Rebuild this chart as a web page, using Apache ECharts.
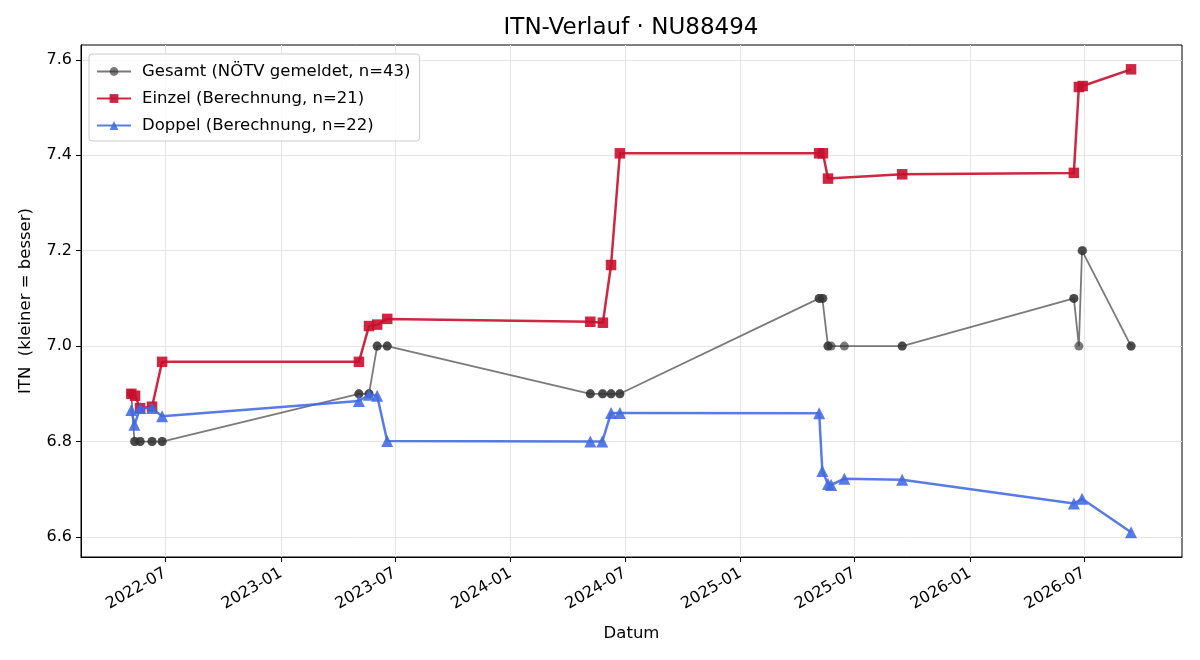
<!DOCTYPE html>
<html>
<head>
<meta charset="utf-8">
<script src="https://cdn.jsdelivr.net/npm/echarts@6/dist/echarts.min.js"></script>
<style>
  html, body { margin: 0; padding: 0; background: #fff; }
  #chart { width: 1200px; height: 660px; }
</style>
</head>
<body>
<div id="chart"></div>
<script>
// Einzel (Berechnung), 21 Punkte
const einzelDates = [
  '2022-05-08', '2022-05-14', '2022-05-22', '2022-06-10', '2022-06-26',
  '2023-05-05', '2023-05-21', '2023-06-03', '2023-06-19',
  '2024-05-07', '2024-05-27', '2024-06-09', '2024-06-23',
  '2025-05-06', '2025-05-12', '2025-05-20', '2025-09-15',
  '2026-06-15', '2026-06-23', '2026-06-29', '2026-09-14'
];
const einzelValues = [
  6.900, 6.896, 6.870, 6.873, 6.967,
  6.967, 7.042, 7.045, 7.057,
  7.051, 7.049, 7.170, 7.404,
  7.404, 7.404, 7.351, 7.360,
  7.363, 7.543, 7.545, 7.580
];

// Doppel (Berechnung), 22 Punkte
const doppelDates = [
  '2022-05-08', '2022-05-13', '2022-05-22', '2022-06-10', '2022-06-26',
  '2023-05-05', '2023-05-21', '2023-06-03', '2023-06-19',
  '2024-05-07', '2024-05-26', '2024-06-09', '2024-06-23',
  '2025-05-06', '2025-05-11', '2025-05-20', '2025-05-25', '2025-06-15', '2025-09-15',
  '2026-06-15', '2026-06-28', '2026-09-14'
];
const doppelValues = [
  6.866, 6.835, 6.870, 6.870, 6.853,
  6.885, 6.898, 6.896, 6.801,
  6.800, 6.800, 6.860, 6.860,
  6.859, 6.738, 6.711, 6.709, 6.722, 6.720,
  6.670, 6.680, 6.610
];

// Gesamt (NÖTV gemeldet), 43 Punkte (viele am selben Tag)
const gesamtDates = [
  '2022-05-08', '2022-05-08', '2022-05-13', '2022-05-14', '2022-05-22', '2022-05-22',
  '2022-06-10', '2022-06-10', '2022-06-26', '2022-06-26',
  '2023-05-05', '2023-05-05', '2023-05-21', '2023-05-21',
  '2023-06-03', '2023-06-03', '2023-06-19', '2023-06-19',
  '2024-05-07', '2024-05-07', '2024-05-26', '2024-05-27',
  '2024-06-09', '2024-06-09', '2024-06-23', '2024-06-23',
  '2025-05-06', '2025-05-06', '2025-05-11', '2025-05-12',
  '2025-05-20', '2025-05-20', '2025-05-25', '2025-06-15', '2025-09-15', '2025-09-15',
  '2026-06-15', '2026-06-15', '2026-06-23', '2026-06-28', '2026-06-29',
  '2026-09-14', '2026-09-14'
];
const gesamtValues = [
  6.9, 6.9, 6.8, 6.8, 6.8, 6.8,
  6.8, 6.8, 6.8, 6.8,
  6.9, 6.9, 6.9, 6.9,
  7.0, 7.0, 7.0, 7.0,
  6.9, 6.9, 6.9, 6.9,
  6.9, 6.9, 6.9, 6.9,
  7.1, 7.1, 7.1, 7.1,
  7.0, 7.0, 7.0, 7.0, 7.0, 7.0,
  7.1, 7.1, 7.0, 7.2, 7.2,
  7.0, 7.0
];

const xTickLabels = [
  '2022-07', '2023-01', '2023-07', '2024-01', '2024-07',
  '2025-01', '2025-07', '2026-01', '2026-07'
];
const yTickValues = [6.6, 6.8, 7.0, 7.2, 7.4, 7.6];

const FONT = 'DejaVu Sans';

function toTime(s) {
  const p = s.split('-').map(Number);
  return Date.UTC(p[0], p[1] - 1, p[2] || 1);
}
function pairs(dates, values) {
  return dates.map((d, i) => [toTime(d), values[i]]);
}
function pad(n) { return n < 10 ? '0' + n : '' + n; }

const xTickValues = xTickLabels.map(toTime);

const chart = echarts.init(document.getElementById('chart'), null, { renderer: 'canvas' });

const option = {
  animation: false,
  backgroundColor: '#fff',
  textStyle: { fontFamily: FONT },
  title: {
    text: 'ITN-Verlauf · NU88494',
    left: 626,
    top: 12,
    textAlign: 'center',
    textStyle: { fontFamily: FONT, fontSize: 23, fontWeight: 'normal', color: '#000' }
  },
  legend: {
    orient: 'vertical',
    left: 89,
    top: 54,
    padding: [9, 9, 7, 7],
    itemGap: 10,
    itemWidth: 34,
    itemHeight: 11,
    backgroundColor: 'rgba(255,255,255,0.85)',
    borderColor: '#cccccc',
    borderWidth: 1,
    borderRadius: 3,
    textStyle: { fontFamily: FONT, fontSize: 16.5, color: '#000', padding: [0, 0, 0, 6] },
    data: ['Gesamt (NÖTV gemeldet, n=43)', 'Einzel (Berechnung, n=21)', 'Doppel (Berechnung, n=22)']
  },
  grid: {
    left: 81,
    right: 18,
    top: 45,
    bottom: 103,
    show: true,
    borderColor: '#000',
    borderWidth: 1,
    backgroundColor: 'transparent'
  },
  xAxis: {
    type: 'value',
    min: toTime('2022-02-17'),
    max: toTime('2026-12-04'),
    name: 'Datum',
    nameLocation: 'middle',
    nameGap: 68,
    nameTextStyle: { fontFamily: FONT, fontSize: 16.5, color: '#000' },
    axisLine: { show: true, onZero: false, lineStyle: { color: '#000', width: 1 } },
    axisTick: {
      show: true, inside: false, length: 5,
      lineStyle: { color: '#000' },
      customValues: xTickValues
    },
    axisLabel: {
      show: true,
      rotate: 30,
      margin: 15,
      fontFamily: FONT,
      fontSize: 16,
      color: '#000',
      customValues: xTickValues,
      formatter: function (v) {
        const d = new Date(v);
        return d.getUTCFullYear() + '-' + pad(d.getUTCMonth() + 1);
      }
    },
    splitLine: { show: true, lineStyle: { color: '#e5e5e5', width: 1 } }
  },
  yAxis: {
    type: 'value',
    min: 6.558,
    max: 7.631,
    name: 'ITN  (kleiner = besser)',
    nameLocation: 'middle',
    nameGap: 47,
    nameRotate: 90,
    nameTextStyle: { fontFamily: FONT, fontSize: 16.5, color: '#000' },
    axisLine: { show: true, lineStyle: { color: '#000', width: 1 } },
    axisTick: {
      show: true, inside: false, length: 5,
      lineStyle: { color: '#000' },
      customValues: yTickValues
    },
    axisLabel: {
      show: true,
      margin: 9,
      fontFamily: FONT,
      fontSize: 16,
      color: '#000',
      customValues: yTickValues,
      formatter: function (v) { return v.toFixed(1); }
    },
    splitLine: { show: true, lineStyle: { color: '#e5e5e5', width: 1 } }
  },
  series: [
    {
      name: 'Gesamt (NÖTV gemeldet, n=43)',
      type: 'line',
      data: pairs(gesamtDates, gesamtValues),
      symbol: 'circle',
      symbolSize: 9,
      showAllSymbol: true,
      z: 2,
      lineStyle: { color: '#333333', width: 1.8, opacity: 0.65 },
      itemStyle: { color: '#333333', opacity: 0.65 }
    },
    {
      name: 'Einzel (Berechnung, n=21)',
      type: 'line',
      data: pairs(einzelDates, einzelValues),
      symbol: 'rect',
      symbolSize: 10.5,
      showAllSymbol: true,
      z: 3,
      lineStyle: { color: '#c8102e', width: 2.5, opacity: 0.9 },
      itemStyle: { color: '#c8102e', opacity: 0.9 }
    },
    {
      name: 'Doppel (Berechnung, n=22)',
      type: 'line',
      data: pairs(doppelDates, doppelValues),
      symbol: 'triangle',
      symbolSize: 12,
      showAllSymbol: true,
      z: 4,
      lineStyle: { color: '#4169e1', width: 2.5, opacity: 0.88 },
      itemStyle: { color: '#4169e1', opacity: 0.88 }
    }
  ]
};

chart.setOption(option);
</script>
</body>
</html>
